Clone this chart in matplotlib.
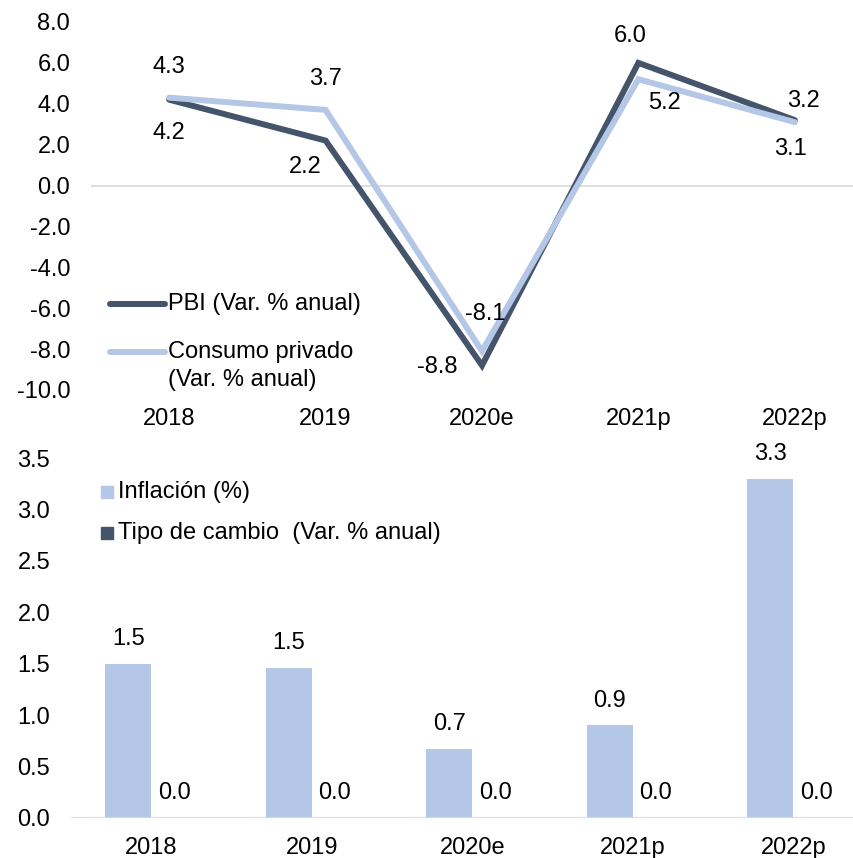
import numpy as np
import matplotlib.pyplot as plt
from matplotlib.lines import Line2D
from matplotlib.patches import Rectangle

plt.rcParams['font.family'] = ['Liberation Sans', 'DejaVu Sans']
FS = 17

# Data
years = ['2018', '2019', '2020e', '2021p', '2022p']
pbi = [4.2, 2.2, -8.8, 6.0, 3.2]
consumo = [4.3, 3.7, -8.1, 5.2, 3.1]
inflacion = [1.50, 1.46, 0.67, 0.90, 3.30]
tipo_cambio = [0.0, 0.0, 0.0, 0.0, 0.0]

# label offsets in points (dx, dy)
pbi_off = [(0, -24), (-15, -19), (-32, -1), (-6, 19), (6, 14)]
cons_off = [(0, 22), (0, 22), (2, 27), (19, -17), (-3, -19)]

dark = '#44546A'
light = '#B4C7E7'
grid = '#D9D9D9'

W, H = 854, 858
fig = plt.figure(figsize=(W / 100, H / 100), dpi=100)


def box(l, t, r, b):
    return [l / W, 1 - b / H, (r - l) / W, (b - t) / H]


# ---- top chart: lines ----
ax1 = fig.add_axes(box(91, 22, 873, 390))
x = np.arange(len(years))
ax1.plot(x, pbi, color=dark, lw=4.3, solid_joinstyle='miter', solid_capstyle='round', zorder=3)
ax1.plot(x, consumo, color=light, lw=4.3, solid_joinstyle='miter', solid_capstyle='round', zorder=4)
ax1.axhline(0, color=grid, lw=1.2, zorder=1)
ax1.set_xlim(-0.5, len(years) - 0.5)
ax1.set_ylim(-10, 8)
ax1.set_yticks(np.arange(-10, 8.1, 2))
ax1.set_yticklabels([f'{v:.1f}' for v in np.arange(-10, 8.1, 2)])
ax1.set_xticks(x)
ax1.set_xticklabels(years)
ax1.tick_params(length=0, labelsize=FS)
ax1.tick_params(axis='y', pad=15)
ax1.tick_params(axis='x', pad=13)
for s in ax1.spines.values():
    s.set_visible(False)

for i, v in enumerate(pbi):
    ax1.annotate(f'{v:.1f}', (x[i], v), xytext=pbi_off[i], textcoords='offset points',
                 ha='center', va='center', fontsize=FS, zorder=5)
for i, v in enumerate(consumo):
    ax1.annotate(f'{v:.1f}', (x[i], v), xytext=cons_off[i], textcoords='offset points',
                 ha='center', va='center', fontsize=FS, zorder=5)

# legend (top)
for yy, c in [(304, dark), (352, light)]:
    fig.add_artist(Line2D([110 / W, 165 / W], [1 - yy / H, 1 - yy / H], color=c, lw=4.3,
                          solid_capstyle='round', transform=fig.transFigure))
fig.text(168 / W, 1 - 304 / H, 'PBI (Var. % anual)', fontsize=FS, va='center')
fig.text(168 / W, 1 - 352 / H, 'Consumo privado', fontsize=FS, va='center')
fig.text(168 / W, 1 - 380 / H, '(Var. % anual)', fontsize=FS, va='center')

# ---- bottom chart: bars ----
ax2 = fig.add_axes(box(71, 458, 873.5, 818))
bw = 0.287
ax2.bar(x - bw / 2, inflacion, width=bw, color=light, zorder=2)
ax2.bar(x + bw / 2, tipo_cambio, width=bw, color=dark, zorder=2)
ax2.axhline(0, color=grid, lw=2, zorder=3)
ax2.set_xlim(-0.5, len(years) - 0.5)
ax2.set_ylim(0, 3.5)
ax2.set_yticks(np.arange(0, 3.51, 0.5))
ax2.set_yticklabels([f'{v:.1f}' for v in np.arange(0, 3.51, 0.5)])
ax2.set_xticks(x)
ax2.set_xticklabels(years)
ax2.tick_params(length=0, labelsize=FS)
ax2.tick_params(axis='y', pad=15)
ax2.tick_params(axis='x', pad=14)
for s in ax2.spines.values():
    s.set_visible(False)

for i in range(len(years)):
    ax2.annotate(f'{inflacion[i]:.1f}', (x[i] - bw / 2, inflacion[i]), xytext=(0, 10),
                 textcoords='offset points', ha='center', va='bottom', fontsize=FS)
    ax2.annotate(f'{tipo_cambio[i]:.1f}', (x[i] + bw / 2, tipo_cambio[i]), xytext=(0, 10),
                 textcoords='offset points', ha='center', va='bottom', fontsize=FS)

# legend (bottom)
for yy, c in [(492, light), (533, dark)]:
    fig.add_artist(Rectangle((101 / W, 1 - (yy + 6) / H), 12 / W, 12 / H, color=c,
                             transform=fig.transFigure))
fig.text(118 / W, 1 - 492 / H, 'Inflación (%)', fontsize=FS, va='center')
fig.text(118 / W, 1 - 533 / H, 'Tipo de cambio  (Var. % anual)', fontsize=FS, va='center')

fig.savefig('out.png', dpi=100)
